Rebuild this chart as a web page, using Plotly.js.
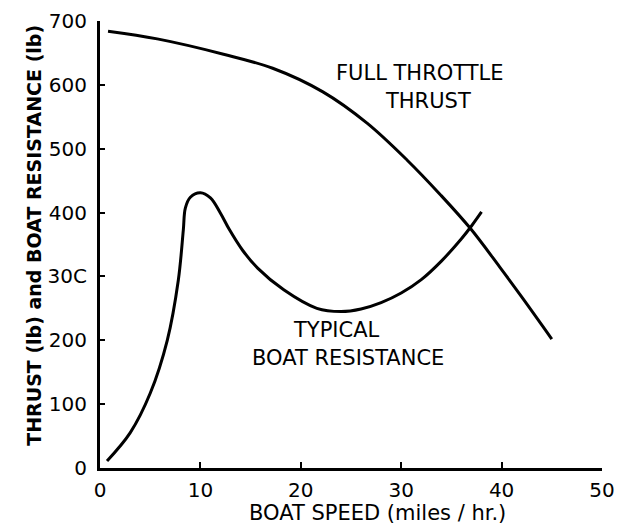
<!DOCTYPE html>
<html>
<head>
<meta charset="utf-8">
<script src="https://cdn.plot.ly/plotly-3.0.1.min.js"></script>
<style>html,body{margin:0;padding:0;background:#fff;}#chart{width:627px;height:525px;}</style>
</head>
<body>
<div id="chart"></div>
<script>
// Full throttle thrust (lb) vs boat speed (mph)
var thrustSpeed = [0.8, 5.7, 12.3, 17.2, 22.2, 26.6, 30.6, 33.9, 36.9, 39.8, 42.0, 45.0];
var thrustLb    = [684, 672, 648, 626, 589, 540, 482, 428, 375, 315, 268, 202];

// Typical boat resistance (lb) vs boat speed (mph)
var resistSpeed = [0.7, 3.0, 5.0, 6.7, 7.8, 8.3, 8.5, 9.0, 10.0, 11.0, 12.0, 12.9, 14.2, 15.7, 18.3, 21.6, 24.0, 26.0, 28.0, 30.0, 32.0, 34.0, 36.0, 37.0, 38.0];
var resistLb    = [11, 55, 117, 200, 294, 373, 407, 424, 431, 423, 399, 373, 341, 313, 279, 250, 245, 249, 259, 274, 295, 324, 359, 379, 401];

var xTicks = [0, 10, 20, 30, 40, 50];
var yTicks = [0, 100, 200, 300, 400, 500, 600, 700];
var yTickText = ["0", "100", "200", "30C", "400", "500", "600", "700"];

var labelFont = {family: "DejaVu Sans, sans-serif", size: 21, color: "#000"};

var traces = [
  {x: thrustSpeed, y: thrustLb, mode: "lines", line: {color: "#000", width: 3, shape: "spline"}, hoverinfo: "none", showlegend: false},
  {x: resistSpeed, y: resistLb, mode: "lines", line: {color: "#000", width: 3, shape: "spline"}, hoverinfo: "none", showlegend: false}
];

var layout = {
  width: 627, height: 525,
  margin: {l: 100, r: 25, t: 21, b: 57},
  paper_bgcolor: "#fff", plot_bgcolor: "#fff",
  font: {family: "DejaVu Sans, sans-serif", color: "#000"},
  xaxis: {
    range: [0, 50], tickvals: xTicks, ticktext: xTicks.map(String),
    showgrid: false, zeroline: false, showline: true, linecolor: "#000", linewidth: 3,
    ticks: "inside", ticklen: 6, tickwidth: 2, tickcolor: "#000",
    tickfont: {family: "DejaVu Sans, sans-serif", size: 20, color: "#000"}, ticklabelstandoff: 2
  },
  yaxis: {
    range: [0, 700], tickvals: yTicks, ticktext: yTickText,
    showgrid: false, zeroline: false, showline: true, linecolor: "#000", linewidth: 3,
    ticks: "inside", ticklen: 5, tickwidth: 2, tickcolor: "#000",
    tickfont: {family: "DejaVu Sans, sans-serif", size: 20, color: "#000"}, ticklabelstandoff: 6
  },
  annotations: [
    {text: "FULL THROTTLE", x: 31.9, y: 619, xref: "x", yref: "y", showarrow: false, font: labelFont, xanchor: "center", yanchor: "middle"},
    {text: "THRUST", x: 32.7, y: 575, xref: "x", yref: "y", showarrow: false, font: labelFont, xanchor: "center", yanchor: "middle"},
    {text: "TYPICAL", x: 23.6, y: 216, xref: "x", yref: "y", showarrow: false, font: labelFont, xanchor: "center", yanchor: "middle"},
    {text: "BOAT RESISTANCE", x: 24.7, y: 173, xref: "x", yref: "y", showarrow: false, font: labelFont, xanchor: "center", yanchor: "middle"},
    {text: "BOAT SPEED (miles / hr.)", x: 27.6, y: -0.1, xref: "x", yref: "paper", showarrow: false, font: {family: "DejaVu Sans, sans-serif", size: 21, color: "#000"}, xanchor: "center", yanchor: "middle"},
    {text: "THRUST (lb) and BOAT RESISTANCE (lb)", x: -0.133, y: 0.52, xref: "paper", yref: "paper", showarrow: false, textangle: -90, font: {family: "DejaVu Sans, sans-serif", size: 19, color: "#000", weight: "bold"}, xanchor: "center", yanchor: "middle"}
  ]
};

Plotly.newPlot("chart", traces, layout, {displayModeBar: false, staticPlot: true});
</script>
</body>
</html>
